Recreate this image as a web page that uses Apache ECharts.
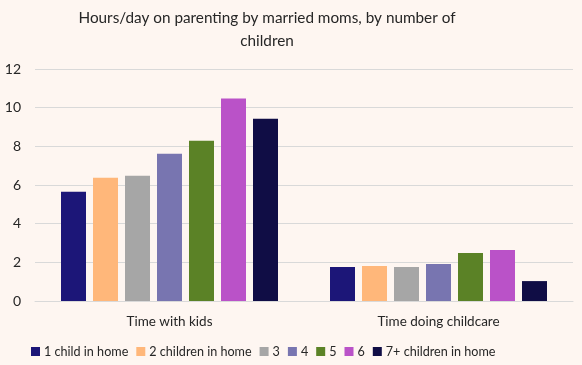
<!DOCTYPE html>
<html><head><meta charset="utf-8">
<script src="https://cdn.jsdelivr.net/npm/echarts@6/dist/echarts.min.js"></script>
<style>html,body{margin:0;padding:0;background:#FEF6F1}#c{width:582px;height:365px}</style>
</head><body><div id="c"></div>
<script>
const categories = ["Time with kids", "Time doing childcare"];
const seriesNames = ["1 child in home", "2 children in home", "3", "4", "5", "6", "7+ children in home"];
const oneChild = [5.65, 1.76];
const twoChildren = [6.37, 1.81];
const threeChildren = [6.48, 1.76];
const fourChildren = [7.62, 1.91];
const fiveChildren = [8.29, 2.48];
const sixChildren = [10.47, 2.64];
const sevenPlus = [9.43, 1.03];
const colors = ["#1C1678", "#FFB77A", "#A6A6A6", "#7875B0", "#5B8226", "#BA52C8", "#100D45"];
const values = [oneChild, twoChildren, threeChildren, fourChildren, fiveChildren, sixChildren, sevenPlus];
const FONT = "Lato";
const chart = echarts.init(document.getElementById('c'));
chart.setOption({
  backgroundColor: '#FEF6F1',
  animation: false,
  title: {
    text: 'Hours/day on parenting by married moms, by number of\nchildren',
    left: 262, textAlign: 'center', top: 2,
    textStyle: {fontFamily: FONT, fontSize: 15.3, fontWeight: 'normal', color: '#262626', lineHeight: 23, align: 'center'}
  },
  legend: {
    bottom: 2, left: 26, itemWidth: 9, itemHeight: 9, itemGap: 8,
    icon: 'rect',
    textStyle: {fontFamily: FONT, fontSize: 12.6, color: '#262626', padding: [0,0,0,-1]}
  },
  grid: {left: 35, right: 9, top: 69, bottom: 64, containLabel: false},
  xAxis: {
    type: 'category', data: categories,
    axisLine: {lineStyle: {color: '#D9D9D9'}}, axisTick: {show: false},
    axisLabel: {fontFamily: FONT, fontSize: 13.5, color: '#262626', margin: 14}
  },
  yAxis: {
    type: 'value', min: 0, max: 12, interval: 2,
    axisLine: {show: false}, axisTick: {show: false},
    splitLine: {lineStyle: {color: '#D9D9D9'}},
    axisLabel: {fontFamily: FONT, fontSize: 14, color: '#262626', margin: 14}
  },
  series: seriesNames.map((n, i) => ({
    name: n, type: 'bar', data: values[i], barWidth: 25, barGap: '28%',
    itemStyle: {color: colors[i]}
  }))
});
</script></body></html>
